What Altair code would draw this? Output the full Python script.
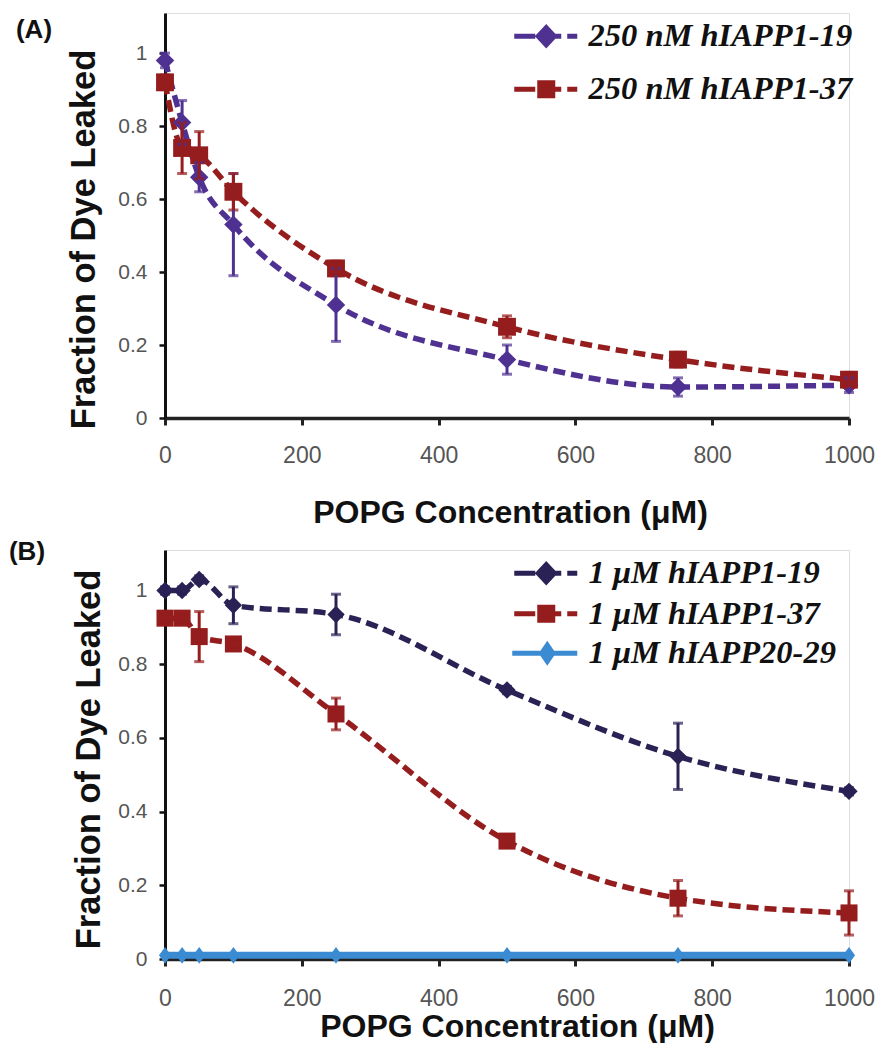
import altair as alt
import pandas as pd

# ---------------- data ----------------
conc = [0, 25, 50, 100, 250, 500, 750, 1000]

a_names = ["250 nM hIAPP1-19", "250 nM hIAPP1-37"]
a_19 = [0.98, 0.81, 0.66, 0.53, 0.31, 0.16, 0.085, 0.09]
a_19_err = [0.02, 0.06, 0.04, 0.14, 0.10, 0.04, 0.025, 0.02]
a_37 = [0.92, 0.74, 0.72, 0.62, 0.41, 0.25, 0.16, 0.105]
a_37_err = [0.02, 0.07, 0.065, 0.05, 0.02, 0.03, 0.02, 0.02]

b_names = ["1 \u03bcM hIAPP1-19", "1 \u03bcM hIAPP1-37", "1 \u03bcM hIAPP20-29"]
b_19 = [1.00, 1.00, 1.03, 0.96, 0.935, 0.73, 0.55, 0.455]
b_19_err = [0.01, 0.01, 0.01, 0.05, 0.055, 0.01, 0.09, 0.01]
b_37 = [0.925, 0.925, 0.875, 0.855, 0.665, 0.32, 0.165, 0.125]
b_37_err = [0.01, 0.01, 0.068, 0.01, 0.043, 0.015, 0.048, 0.06]
b_2029 = [0.01, 0.01, 0.01, 0.01, 0.01, 0.01, 0.01, 0.01]
b_2029_err = [0, 0, 0, 0, 0, 0, 0, 0]

a_colors = ["#4f3192", "#951d1d"]
b_colors = ["#2a2155", "#951d1d", "#3b8bd2"]


def build_df(names, values, errors):
    rows = []
    for name, vals, errs in zip(names, values, errors):
        for x, y, e in zip(conc, vals, errs):
            rows.append({"series": name, "x": x, "y": y, "lo": y - e, "hi": y + e, "err": e})
    return pd.DataFrame(rows)


df_a = build_df(a_names, [a_19, a_37], [a_19_err, a_37_err])
df_b = build_df(b_names, [b_19, b_37, b_2029], [b_19_err, b_37_err, b_2029_err])

# legend symbols (line + marker), custom paths in units of symbol radius
LEG_DIAMOND = "M-5.6,0L-3.5,0M-3.2,0L-0.9,0M-0.3,0L0.7,0M-2.4,-0.85L-1.6,0L-2.4,0.85L-3.2,0Z"
LEG_SQUARE = "M-5.6,0L-3.5,0M-3.2,0L-0.9,0M-0.3,0L0.7,0M-3.05,-0.65L-1.75,-0.65L-1.75,0.65L-3.05,0.65Z"
LEG_BLUE = "M-5.8,0L0.7,0M-2.3,-0.8L-1.75,0L-2.3,0.8L-2.85,0Z"
TALL_DIAMOND = "M0,-1L0.72,0L0,1L-0.72,0Z"

SANS = "Liberation Sans, Arial, sans-serif"
SERIF = "Liberation Serif, Times New Roman, serif"


def colour_expr(names, colors):
    expr = "'%s'" % colors[-1]
    for n, c in reversed(list(zip(names[:-1], colors[:-1]))):
        expr = "datum.value === '%s' ? '%s' : (%s)" % (n, c, expr)
    return {"expr": expr}


def panel(df, names, colors, dashes, widths, pt_shapes, pt_sizes, leg_shapes, height,
          y_title_x, y_title_y, x_title_y, x_title_x, x_label_pad,
          legend_y, row_pad, tag, tag_x, tag_y):
    xs = alt.Scale(domain=[0, 1000], nice=False, zero=False)
    ys = alt.Scale(domain=[0, 1.11], nice=False, zero=True)
    x_axis = alt.Axis(
        values=[0, 200, 400, 600, 800, 1000], format="d", title="POPG Concentration (\u03bcM)",
        titleFont=SANS, titleFontSize=32, titleFontWeight="bold", titleColor="#111",
        titleBaseline="alphabetic", titleY=x_title_y, titleX=x_title_x,
        labelFont=SANS, labelFontSize=23, labelColor="#555", labelPadding=x_label_pad,
        tickSize=7, tickWidth=3, tickColor="#222", domainColor="#222", domainWidth=3.5,
        grid=False, labelFlush=False,
    )
    y_axis = alt.Axis(
        values=[0, 0.2, 0.4, 0.6, 0.8, 1.0], format="~g", title="Fraction of Dye Leaked",
        titleFont=SANS, titleFontSize=34.5, titleFontWeight="bold", titleColor="#111",
        titleAngle=270, titleBaseline="alphabetic", titleX=y_title_x, titleY=y_title_y,
        labelFont=SANS, labelFontSize=21, labelColor="#555", labelPadding=12,
        tickSize=6, tickWidth=2.5, tickColor="#111", domainColor="#111", domainWidth=3,
        grid=False, labelFlush=False,
    )
    X = alt.X("x:Q", scale=xs, axis=x_axis)
    Y = alt.Y("y:Q", scale=ys, axis=y_axis)
    color = alt.Color("series:N", scale=alt.Scale(domain=names, range=colors), legend=None)
    base = alt.Chart(df)

    cexpr = colour_expr(names, colors)
    leg = alt.Legend(
        title=None, orient="none", legendX=389, legendY=legend_y, padding=0,
        symbolSize=400, symbolStrokeWidth=5, symbolOpacity=1,
        symbolFillColor=cexpr, symbolStrokeColor=cexpr,
        labelFont=SERIF, labelFontSize=32.5, labelFontStyle="italic", labelFontWeight="bold",
        labelColor="#111", labelOffset=2, rowPadding=row_pad, labelLimit=500,
    )
    layers = []
    # layer without marks that only carries the legend (line + marker symbols)
    layers.append(
        base.transform_filter("false")
        .mark_point(filled=True, opacity=1, size=400, strokeWidth=5)
        .encode(
            x=X, y=Y, color=color,
            shape=alt.Shape("series:N", scale=alt.Scale(domain=names, range=leg_shapes), legend=leg),
        )
    )
    for name, dash, w in zip(names, dashes, widths):
        layers.append(
            base.transform_filter(alt.datum.series == name)
            .mark_line(interpolate="monotone", strokeWidth=w, strokeDash=dash)
            .encode(x=X, y=Y, color=color)
        )
    layers.append(
        base.mark_point(filled=True, opacity=1).encode(
            x=X, y=Y, color=color,
            shape=alt.Shape("series:N", scale=alt.Scale(domain=names, range=pt_shapes), legend=None),
            size=alt.Size("series:N", scale=alt.Scale(domain=names, range=pt_sizes), legend=None),
        )
    )
    layers.append(
        base.transform_filter("datum.err > 0")
        .mark_errorbar(ticks=True, size=10, thickness=3)
        .encode(x=X, y=alt.Y("lo:Q", scale=ys, axis=y_axis), y2="hi:Q", color=color)
    )
    layers.append(
        alt.Chart(pd.DataFrame({"tag": [tag]}))
        .mark_text(font=SANS, fontSize=26, fontWeight="bold", align="center",
                   baseline="middle", color="#111")
        .encode(text="tag:N", x=alt.value(tag_x), y=alt.value(tag_y))
    )
    return alt.layer(*layers).resolve_scale(shape="independent").properties(
        width=684, height=height
    )


chart_a = panel(
    df_a, a_names, a_colors, [[12, 6], [12, 6]], [5.5, 5.5], ["diamond", "square"], [340, 320],
    [LEG_DIAMOND, LEG_SQUARE], 405,
    y_title_x=-71, y_title_y=226, x_title_y=104.5, x_title_x=345, x_label_pad=19,
    legend_y=7, row_pad=17, tag="(A)", tag_x=-131, tag_y=17,
)
chart_b = panel(
    df_b, b_names, b_colors, [[12, 6], [12, 6], [1, 0]], [5.5, 5.5, 7],
    ["diamond", "square", TALL_DIAMOND],
    [300, 280, 480], [LEG_DIAMOND, LEG_SQUARE, LEG_BLUE], 409,
    y_title_x=-66, y_title_y=209, x_title_y=77.5, x_title_x=352, x_label_pad=21,
    legend_y=7, row_pad=4.5, tag="(B)", tag_x=-138, tag_y=2,
)

chart = alt.vconcat(chart_a, chart_b, spacing=9).resolve_scale(
    color="independent", shape="independent", size="independent",
).resolve_legend(
    shape="independent"
).properties(
    padding={"left": 0, "top": 4, "right": 0, "bottom": 0}
).configure_view(stroke=None).configure(background="white")

chart.save("out.html", embed_options={"renderer": "svg", "actions": False})
